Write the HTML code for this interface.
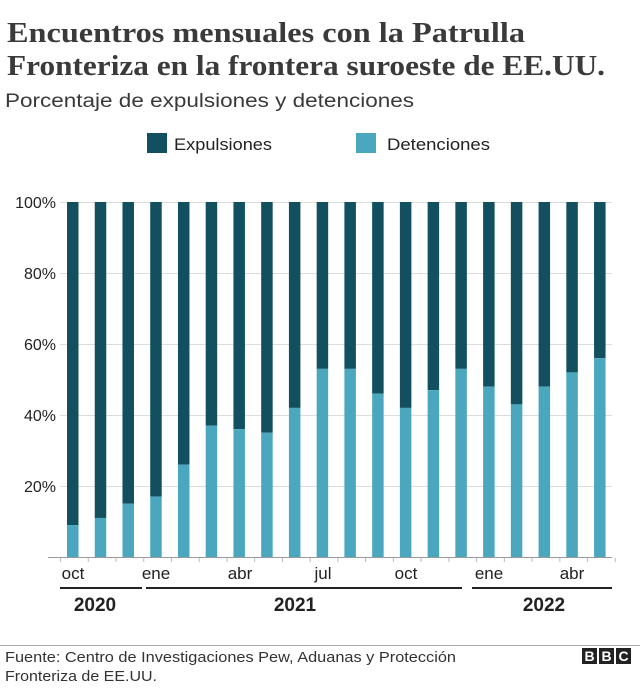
<!DOCTYPE html>
<html><head><meta charset="utf-8"><style>
body{margin:0;background:#fff;}
svg{display:block;}
</style></head><body>
<svg width="640" height="694" xmlns="http://www.w3.org/2000/svg" font-family="Liberation Sans, sans-serif">
<text x="7" y="42" font-family="Liberation Serif, serif" font-size="29" font-weight="bold" fill="#3a3a3a" textLength="518" lengthAdjust="spacingAndGlyphs">Encuentros mensuales con la Patrulla</text>
<text x="7" y="75" font-family="Liberation Serif, serif" font-size="29" font-weight="bold" fill="#3a3a3a" textLength="598" lengthAdjust="spacingAndGlyphs">Fronteriza en la frontera suroeste de EE.UU.</text>
<text x="5" y="107" font-size="19" fill="#3a3a3a" textLength="409" lengthAdjust="spacingAndGlyphs">Porcentaje de expulsiones y detenciones</text>
<rect x="147" y="133" width="20" height="20" fill="#124f5f"/>
<text x="174" y="150" font-size="17" fill="#222" textLength="98" lengthAdjust="spacingAndGlyphs">Expulsiones</text>
<rect x="356" y="133" width="20" height="20" fill="#4ba7bd"/>
<text x="387" y="150" font-size="17" fill="#222" textLength="103" lengthAdjust="spacingAndGlyphs">Detenciones</text>
<g stroke="#dcdcdc" stroke-width="1">
<line x1="60" y1="202.5" x2="612" y2="202.5"/>
<line x1="60" y1="273.5" x2="612" y2="273.5"/>
<line x1="60" y1="344.5" x2="612" y2="344.5"/>
<line x1="60" y1="415.5" x2="612" y2="415.5"/>
<line x1="60" y1="486.5" x2="612" y2="486.5"/>
</g>
<g font-size="16" fill="#222" text-anchor="end">
<text x="56" y="208">100%</text>
<text x="56" y="279">80%</text>
<text x="56" y="350">60%</text>
<text x="56" y="421">40%</text>
<text x="56" y="492">20%</text>
</g>
<g id="bars"></g>
<line x1="48" y1="557.5" x2="612" y2="557.5" stroke="#999" stroke-width="1"/>
<g id="ticks" stroke="#bbb" stroke-width="1"></g>
<g font-size="17" fill="#222" text-anchor="middle">
<text x="73" y="579">oct</text>
<text x="156" y="579">ene</text>
<text x="240" y="579">abr</text>
<text x="323" y="579">jul</text>
<text x="406" y="579">oct</text>
<text x="489" y="579">ene</text>
<text x="572" y="579">abr</text>
</g>
<g stroke="#222" stroke-width="2">
<line x1="60" y1="588" x2="142" y2="588"/>
<line x1="146" y1="588" x2="462" y2="588"/>
<line x1="472" y1="588" x2="612" y2="588"/>
</g>
<g font-size="19" font-weight="bold" fill="#222" text-anchor="middle">
<text x="95" y="611">2020</text>
<text x="295" y="611">2021</text>
<text x="544" y="611">2022</text>
</g>
<line x1="0" y1="645.5" x2="640" y2="645.5" stroke="#aaa" stroke-width="1"/>
<text x="5" y="662" font-size="15" fill="#333" textLength="451" lengthAdjust="spacingAndGlyphs">Fuente: Centro de Investigaciones Pew, Aduanas y Protección</text>
<text x="5" y="681" font-size="15" fill="#333" textLength="152" lengthAdjust="spacingAndGlyphs">Fronteriza de EE.UU.</text>
<g font-size="14" font-weight="bold" fill="#fff" text-anchor="middle">
<rect x="582" y="648" width="15" height="16" fill="#222"/><text x="589.5" y="661">B</text>
<rect x="599" y="648" width="15" height="16" fill="#222"/><text x="606.5" y="661">B</text>
<rect x="616" y="648" width="15" height="16" fill="#222"/><text x="623.5" y="661">C</text>
</g>
<script>
var v=[9,11,15,17,26,37,36,35,42,53,53,46,42,47,53,48,43,48,52,56];
var b=document.getElementById('bars'),t=document.getElementById('ticks'),ns='http://www.w3.org/2000/svg';
for(var i=0;i<20;i++){var x=67+i*27.74;
var h=v[i]*3.55;
var r=document.createElementNS(ns,'rect');r.setAttribute('x',x);r.setAttribute('y',202);r.setAttribute('width',11.5);r.setAttribute('height',355-h);r.setAttribute('fill','#124f5f');b.appendChild(r);
r=document.createElementNS(ns,'rect');r.setAttribute('x',x);r.setAttribute('y',557-h);r.setAttribute('width',11.5);r.setAttribute('height',h);r.setAttribute('fill','#4ba7bd');b.appendChild(r);}
for(var i=0;i<=20;i++){var x=60.5+i*27.74;var l=document.createElementNS(ns,'line');l.setAttribute('x1',x);l.setAttribute('x2',x);l.setAttribute('y1',558);l.setAttribute('y2',562);t.appendChild(l);}
</script>
</svg>
</body></html>
